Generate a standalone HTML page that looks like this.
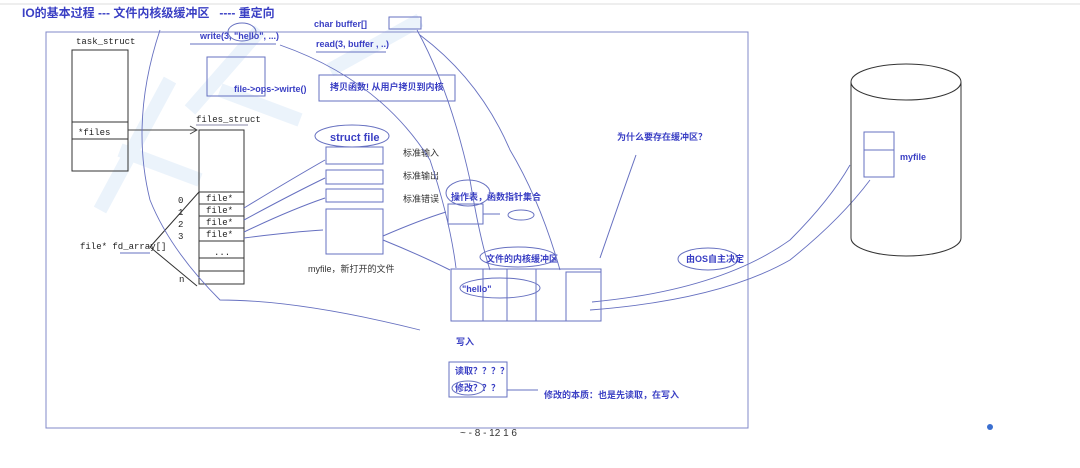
<!DOCTYPE html>
<html><head><meta charset="utf-8"><style>
html,body{margin:0;padding:0;background:#fff;}
svg{display:block}
.b{font-family:"Liberation Sans","Noto Sans CJK SC",sans-serif;font-weight:bold;fill:#3a3fc4;}
.m{font-family:"Liberation Mono","Noto Sans CJK SC",monospace;fill:#222;}
.c{font-family:"Liberation Sans","Noto Sans CJK SC",sans-serif;fill:#333;}
</style></head><body>
<svg width="1080" height="468" viewBox="0 0 1080 468" xmlns="http://www.w3.org/2000/svg">
<rect width="1080" height="468" fill="#fff"/>
<line x1="0" y1="4" x2="1080" y2="4" stroke="#eee" stroke-width="2"/>
<!-- watermark -->
<g fill="none" stroke="#ebf3fb" stroke-width="14">
<path d="M100 210 L170 80 M120 150 L200 180"/>
<path d="M190 110 L260 30 M220 90 L300 120"/>
<path d="M330 70 L420 20"/>
</g>
<text class="b" x="22" y="17" font-size="12">IO的基本过程 --- 文件内核级缓冲区 &#160;&#160;---- 重定向</text>
<rect x="46" y="32" width="702" height="396" fill="none" stroke="#8088c8" stroke-width="1"/>
<!-- task_struct -->
<text class="m" x="76" y="44" font-size="9">task_struct</text>
<rect x="72" y="50" width="56" height="121" fill="none" stroke="#333"/>
<line x1="72" y1="122" x2="128" y2="122" stroke="#333"/>
<line x1="72" y1="139" x2="128" y2="139" stroke="#333"/>
<text class="m" x="78" y="135" font-size="9">*files</text>
<line x1="128" y1="130" x2="197" y2="130" stroke="#444"/>
<path d="M190 126 L197 130 L190 134" fill="none" stroke="#444"/>
<!-- files_struct -->
<text class="m" x="196" y="122" font-size="9">files_struct</text>
<line x1="196" y1="125" x2="248" y2="125" stroke="#88a"/>
<rect x="199" y="130" width="45" height="154" fill="none" stroke="#333"/>
<g stroke="#333"><line x1="199" y1="192" x2="244" y2="192"/><line x1="199" y1="204" x2="244" y2="204"/><line x1="199" y1="216" x2="244" y2="216"/><line x1="199" y1="228" x2="244" y2="228"/><line x1="199" y1="241" x2="244" y2="241"/><line x1="199" y1="258" x2="244" y2="258"/><line x1="199" y1="271" x2="244" y2="271"/></g>
<g class="m" font-size="9"><text x="206" y="201">file*</text><text x="206" y="213">file*</text><text x="206" y="225">file*</text><text x="206" y="237">file*</text><text x="214" y="255">...</text></g>
<g class="m" font-size="9"><text x="178" y="203">0</text><text x="178" y="215">1</text><text x="178" y="227">2</text><text x="178" y="239">3</text><text x="179" y="282">n</text></g>
<path d="M199 192 L150 247 L197 286" fill="none" stroke="#333"/>
<text class="m" x="80" y="249" font-size="9">file* fd_array[]</text>
<line x1="120" y1="253" x2="150" y2="253" stroke="#6670c0"/>
<!-- top labels -->
<text class="b" x="200" y="39" font-size="9">write(3, "hello", ...)</text>
<line x1="190" y1="44" x2="276" y2="44" stroke="#6670c0"/>
<ellipse cx="242" cy="32" rx="14" ry="9" fill="none" stroke="#6670c0"/>
<text class="b" x="314" y="27" font-size="9">char buffer[]</text>
<rect x="389" y="17" width="32" height="12" fill="none" stroke="#6670c0"/>
<text class="b" x="316" y="47" font-size="9">read(3, buffer , ..)</text>
<line x1="316" y1="52" x2="386" y2="52" stroke="#6670c0"/>
<rect x="207" y="57" width="58" height="39" fill="none" stroke="#6670c0"/>
<text class="b" x="234" y="92" font-size="9">file-&gt;ops-&gt;wirte()</text>
<rect x="319" y="75" width="136" height="26" fill="none" stroke="#6670c0"/>
<text class="b" x="330" y="90" font-size="9">拷贝函数! 从用户拷贝到内核</text>
<!-- struct file -->
<ellipse cx="352" cy="136" rx="37" ry="11" fill="none" stroke="#6670c0"/>
<text class="b" x="330" y="141" font-size="11">struct file</text>
<g fill="none" stroke="#6670c0"><rect x="326" y="147" width="57" height="17"/><rect x="326" y="170" width="57" height="14"/><rect x="326" y="189" width="57" height="13"/><rect x="326" y="209" width="57" height="45"/></g>
<g class="c" font-size="9"><text x="403" y="156">标准输入</text><text x="403" y="179">标准输出</text><text x="403" y="202">标准错误</text></g>
<text class="c" x="308" y="272" font-size="9">myfile，新打开的文件</text>
<g fill="none" stroke="#6670c0"><path d="M244 208 Q290 180 325 160"/><path d="M244 220 Q290 195 325 178"/><path d="M244 232 Q290 210 325 198"/><path d="M244 238 Q290 232 323 230"/></g>
<!-- ops table -->
<ellipse cx="468" cy="193" rx="22" ry="13" fill="none" stroke="#6670c0"/>
<text class="b" x="451" y="200" font-size="9">操作表，函数指针集合</text>
<rect x="448" y="204" width="35" height="20" fill="none" stroke="#6670c0"/>
<path d="M383 236 Q420 220 446 212 M483 214 L500 214" fill="none" stroke="#6670c0"/>
<ellipse cx="521" cy="215" rx="13" ry="5" fill="none" stroke="#6670c0"/>
<!-- buffer -->
<ellipse cx="518" cy="257" rx="38" ry="10" fill="none" stroke="#6670c0"/>
<text class="b" x="486" y="262" font-size="9">文件的内核缓冲区</text>
<rect x="451" y="269" width="150" height="52" fill="none" stroke="#6670c0"/>
<line x1="483" y1="269" x2="483" y2="321" stroke="#6670c0"/>
<rect x="507" y="269" width="29" height="52" fill="none" stroke="#6670c0"/>
<rect x="566" y="272" width="35" height="49" fill="none" stroke="#6670c0"/>
<ellipse cx="500" cy="288" rx="40" ry="10" fill="none" stroke="#6670c0"/>
<text class="b" x="462" y="292" font-size="9">"hello"</text>
<path d="M383 240 Q420 255 450 270" fill="none" stroke="#6670c0"/>
<text class="b" x="456" y="345" font-size="9">写入</text>
<rect x="449" y="362" width="58" height="35" fill="none" stroke="#6670c0"/>
<text class="b" x="455" y="374" font-size="9">读取？？？？</text>
<ellipse cx="468" cy="388" rx="16" ry="7" fill="none" stroke="#6670c0"/>
<text class="b" x="455" y="391" font-size="9">修改？？？</text>
<path d="M507 390 L538 390" stroke="#6670c0"/>
<text class="b" x="544" y="398" font-size="9">修改的本质：也是先读取，在写入</text>
<text class="b" x="617" y="140" font-size="9">为什么要存在缓冲区？</text>
<path d="M600 258 Q620 200 636 155" fill="none" stroke="#6670c0"/>
<ellipse cx="708" cy="259" rx="30" ry="11" fill="none" stroke="#6670c0"/>
<text class="b" x="686" y="262" font-size="9">由OS自主决定</text>
<!-- long curves -->
<g fill="none" stroke="#6670c0" stroke-width="0.9">
<path d="M160 30 Q130 120 150 200 Q170 250 220 300 Q300 300 420 330"/>
<path d="M280 45 Q380 80 430 160 Q450 220 456 268"/>
<path d="M417 30 Q450 90 470 180 Q480 240 490 270"/>
<path d="M420 35 Q480 80 510 150 Q540 200 560 270"/>
<path d="M592 302 Q720 290 790 240 Q830 200 850 165"/>
<path d="M590 310 Q720 300 790 260 Q840 220 870 180"/>
</g>
<!-- cylinder -->
<g fill="none" stroke="#333">
<ellipse cx="906" cy="82" rx="55" ry="18"/>
<path d="M851 82 L851 238 A55 18 0 0 0 961 238 L961 82"/>
</g>
<rect x="864" y="132" width="30" height="45" fill="none" stroke="#6670c0"/>
<line x1="864" y1="150" x2="894" y2="150" stroke="#6670c0"/>
<text class="b" x="900" y="160" font-size="9">myfile</text>
<g class="c" font-size="10" fill="#99a"><text x="460" y="436">~ - 8 - 12 1 6</text></g>
<circle cx="990" cy="427" r="3" fill="#3a6fd0"/>
</svg>
</body></html>
